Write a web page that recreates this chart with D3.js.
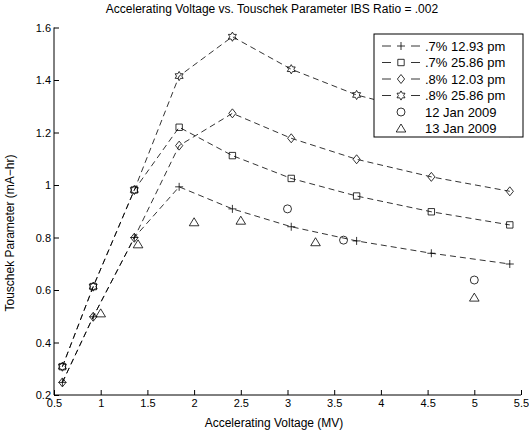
<!DOCTYPE html>
<html>
<head>
<meta charset="utf-8">
<script src="https://cdn.jsdelivr.net/npm/d3@7"></script>
<style>
  body { margin: 0; background: #fff; }
  svg { font-family: "Liberation Sans", Arial, sans-serif; }
  .axis path, .axis line { stroke: #000; }
  .axis text { font-size: 11px; fill: #000; }
</style>
</head>
<body>
<svg width="529" height="430"></svg>
<script>
// simulated curves share the same voltage points
const voltage = [0.59, 0.92, 1.36, 1.84, 2.41, 3.04, 3.74, 4.54, 5.38];
const p7_1293 = [0.248, 0.498, 0.80, 0.993, 0.909, 0.841, 0.787, 0.740, 0.699];
const p7_2586 = [0.308, 0.613, 0.981, 1.220, 1.112, 1.025, 0.958, 0.898, 0.848];
const p8_1203 = [0.248, 0.498, 0.799, 1.150, 1.273, 1.178, 1.098, 1.031, 0.976];
const p8_2586 = [0.308, 0.613, 0.981, 1.415, 1.565, 1.441, 1.343, 1.27, 1.20];

// measurements
const jan12V = [3.0, 3.6, 5.0];
const jan12T = [0.909, 0.790, 0.638];
const jan13V = [1.0, 1.4, 2.0, 2.5, 3.3, 5.0];
const jan13T = [0.511, 0.774, 0.858, 0.864, 0.782, 0.571];

const xTicks = [0.5, 1, 1.5, 2, 2.5, 3, 3.5, 4, 4.5, 5, 5.5];
const yTicks = [0.2, 0.4, 0.6, 0.8, 1, 1.2, 1.4, 1.6];

const series = [
  { name: ".7% 12.93 pm", x: voltage, y: p7_1293, marker: "plus", line: true },
  { name: ".7% 25.86 pm", x: voltage, y: p7_2586, marker: "square", line: true },
  { name: ".8% 12.03 pm", x: voltage, y: p8_1203, marker: "diamond", line: true },
  { name: ".8% 25.86 pm", x: voltage, y: p8_2586, marker: "hexagram", line: true },
  { name: "12 Jan 2009", x: jan12V, y: jan12T, marker: "circle", line: false },
  { name: "13 Jan 2009", x: jan13V, y: jan13T, marker: "triangle", line: false },
];

const svg = d3.select("svg");
const x = d3.scaleLinear().domain([0.5, 5.5]).range([54, 521]);
const y = d3.scaleLinear().domain([0.2, 1.6]).range([395, 27.5]);

//Marker shapes (open, Matlab style)
function markerPath(type) {
  const p = d3.path();
  if (type === "plus") {
    p.moveTo(-4, 0); p.lineTo(4, 0); p.moveTo(0, -4); p.lineTo(0, 4);
  } else if (type === "square") {
    p.rect(-3.2, -3.2, 6.4, 6.4);
  } else if (type === "diamond") {
    p.moveTo(0, -4.5); p.lineTo(3.6, 0); p.lineTo(0, 4.5); p.lineTo(-3.6, 0); p.closePath();
  } else if (type === "circle") {
    p.arc(0, 0, 4, 0, 2 * Math.PI);
  } else if (type === "triangle") {
    p.moveTo(0, -4.5); p.lineTo(4.8, 3.5); p.lineTo(-4.8, 3.5); p.closePath();
  } else if (type === "hexagram") {
    const ro = 4.6, ri = ro / Math.sqrt(3);
    for (let k = 0; k < 12; k++) {
      const a = -Math.PI / 2 + k * Math.PI / 6;
      const r = k % 2 === 0 ? ro : ri;
      if (k === 0) p.moveTo(r * Math.cos(a), r * Math.sin(a));
      else p.lineTo(r * Math.cos(a), r * Math.sin(a));
    }
    p.closePath();
  }
  return p.toString();
}

//Axes
svg.append("g")
  .attr("class", "axis")
  .attr("transform", "translate(0,395)")
  .call(d3.axisBottom(x).tickValues(xTicks).tickFormat(d3.format("")).tickSizeInner(-5).tickSizeOuter(0).tickPadding(4))
  .call(g => g.select(".domain").attr("d", `M${x(0.5)},0H${x(5.5)}`));

svg.append("g")
  .attr("class", "axis")
  .attr("transform", "translate(54,0)")
  .call(d3.axisLeft(y).tickValues(yTicks).tickFormat(d3.format("")).tickSizeInner(-5).tickSizeOuter(0).tickPadding(3))
  .call(g => g.select(".domain").attr("d", `M0,${y(0.2)}V${y(1.6)}`));

//Lines and markers
const line = d3.line().x(d => x(d[0])).y(d => y(d[1]));
series.forEach(s => {
  const pts = s.x.map((v, i) => [v, s.y[i]]);
  if (s.line) {
    svg.append("path")
      .attr("d", line(pts))
      .attr("fill", "none")
      .attr("stroke", "#000")
      .attr("stroke-width", 0.8)
      .attr("stroke-dasharray", "6,4");
  }
  svg.append("g")
    .selectAll("path")
    .data(pts)
    .join("path")
    .attr("transform", d => `translate(${x(d[0])},${y(d[1])})`)
    .attr("d", markerPath(s.marker))
    .attr("fill", "none")
    .attr("stroke", "#000")
    .attr("stroke-width", 0.8);
});

//Title and labels
svg.append("text")
  .attr("x", 272).attr("y", 13)
  .attr("text-anchor", "middle")
  .style("font-size", "12px")
  .text("Accelerating Voltage vs. Touschek Parameter IBS Ratio = .002");

svg.append("text")
  .attr("x", 274).attr("y", 427)
  .attr("text-anchor", "middle")
  .style("font-size", "12px")
  .text("Accelerating Voltage (MV)");

svg.append("text")
  .attr("transform", "translate(14,233) rotate(-90)")
  .attr("text-anchor", "middle")
  .style("font-size", "12px")
  .text("Touschek Parameter (mA\u2212hr)");

//Legend
const legend = svg.append("g");
legend.append("rect")
  .attr("x", 374).attr("y", 34)
  .attr("width", 149).attr("height", 103)
  .attr("fill", "#fff").attr("stroke", "#000").attr("stroke-width", 1);

const rows = legend.selectAll("g.row")
  .data(series)
  .join("g")
  .attr("class", "row")
  .attr("transform", (d, i) => `translate(0,${46 + i * 16.5})`);

// dash - marker - dash sample
rows.filter(d => d.line).selectAll("line")
  .data([[382, 391], [411, 420]])
  .join("line")
  .attr("x1", d => d[0]).attr("x2", d => d[1])
  .attr("stroke", "#000").attr("stroke-width", 0.8);

rows.append("path")
  .attr("transform", "translate(401,0)")
  .attr("d", d => markerPath(d.marker))
  .attr("fill", "#fff").attr("stroke", "#000").attr("stroke-width", 0.8);

rows.append("text")
  .attr("x", 425)
  .attr("dy", "0.35em")
  .style("font-size", "13px")
  .text(d => d.name);
</script>
</body>
</html>
